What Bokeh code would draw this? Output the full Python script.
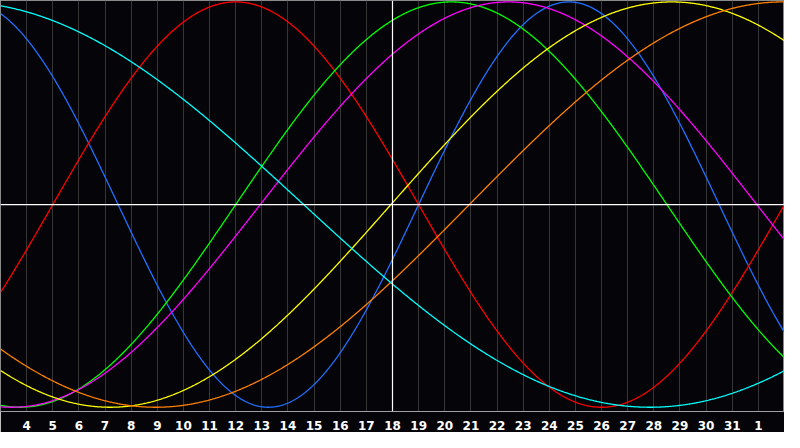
import numpy as np
from bokeh.plotting import figure
from bokeh.models import Span, FixedTicker, Range1d
from bokeh.embed import file_html
from bokeh.resources import INLINE

# Day labels along the bottom (position 0 = left edge, one step per day)
day_labels = ["4", "5", "6", "7", "8", "9", "10", "11", "12", "13", "14", "15",
              "16", "17", "18", "19", "20", "21", "22", "23", "24", "25", "26",
              "27", "28", "29", "30", "31", "1"]
tick_positions = list(range(1, len(day_labels) + 1))
today_position = 15          # the "18" column, marked by the white vertical line
days_shown = 30

# Cycles (period in days, day position of upward zero crossing, colour)
cycle_periods = [23, 28, 33, 38, 43, 48, 53]
cycle_rise = [16.0, 2.0, 9.0, 9.94, 14.94, 17.94, -14.9]
cycle_colors = ["#2070ff", "#ff0000", "#00ff00", "#ff00ff", "#ffff00", "#ff8000", "#00ffff"]

p = figure(width=784, height=432, output_backend="svg", toolbar_location=None,
           x_range=Range1d(0, days_shown), y_range=Range1d(-1.021, 1.007),
           y_axis_location=None,
           background_fill_color="#050509", border_fill_color="#050509",
           outline_line_color="#8a8a8a", outline_line_width=1,
           min_border_left=0, min_border_right=0, min_border_top=0,
           min_border_bottom=19)

ticker = FixedTicker(ticks=tick_positions)
p.xaxis.ticker = ticker
p.xaxis.major_label_overrides = {t: lab for t, lab in zip(tick_positions, day_labels)}
p.xaxis.major_tick_line_color = None
p.xaxis.minor_tick_line_color = None
p.xaxis.axis_line_color = "#a0a0a0"
p.xaxis.major_label_text_color = "#ffffff"
p.xaxis.major_label_text_font = "DejaVu Sans"
p.xaxis.major_label_text_font_style = "bold"
p.xaxis.major_label_text_font_size = "12px"
p.xaxis.major_label_standoff = 3

p.xgrid.ticker = ticker
p.xgrid.grid_line_color = "#363636"
p.xgrid.grid_line_width = 1
p.ygrid.grid_line_color = None

t = np.linspace(0, days_shown, 900)
for per, rise, col in zip(cycle_periods, cycle_rise, cycle_colors):
    y = np.sin(2 * np.pi * (t - rise) / per)
    p.line(t, y, line_color=col, line_width=1.3)

p.add_layout(Span(location=today_position, dimension="height", line_color="#ffffff", line_width=1.2))
p.add_layout(Span(location=0, dimension="width", line_color="#ffffff", line_width=1.2))

open("out.html", "w").write(file_html(p, INLINE))
